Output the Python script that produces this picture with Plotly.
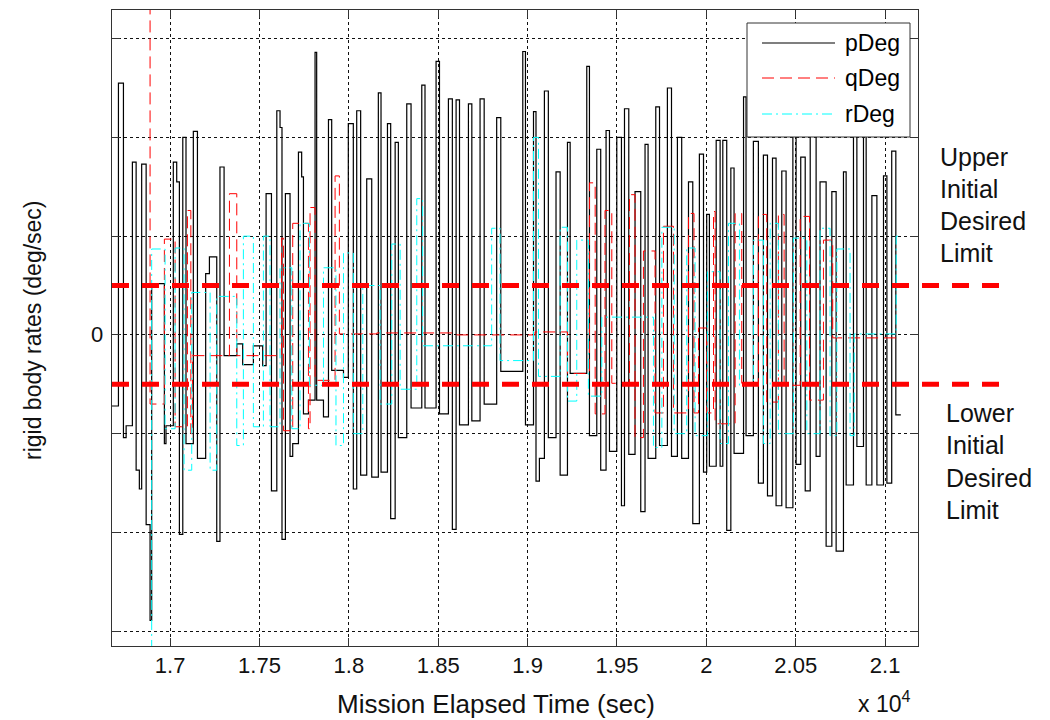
import plotly.graph_objects as go

# ---------------- data ----------------
# Mission elapsed time in seconds, values in deg/sec (step series)
p_time = [16670, 16711, 16739, 16754, 16789, 16810, 16828, 16841, 16866, 16888,
          16897, 16968, 16977, 17018, 17037, 17052, 17071, 17089, 17130, 17153,
          17199, 17220, 17261, 17279, 17302, 17373, 17406, 17466, 17518, 17537,
          17567, 17597, 17615, 17626, 17645, 17671, 17686, 17718, 17736, 17746,
          17774, 17811, 17820, 17858, 17886, 17904, 17970, 17997, 18025, 18044,
          18066, 18100, 18128, 18165, 18180, 18216, 18234, 18259, 18277, 18324,
          18348, 18408, 18426, 18488, 18507, 18557, 18579, 18600, 18619, 18669,
          18688, 18734, 18757, 18827, 18850, 18973, 18988, 19033, 19047, 19066,
          19094, 19116, 19159, 19182, 19223, 19238, 19331, 19346, 19387, 19409,
          19439, 19458, 19499, 19525, 19542, 19566, 19601, 19633, 19657, 19674,
          19717, 19738, 19782, 19805, 19838, 19862, 19900, 19924, 19961, 19984,
          20002, 20017, 20055, 20077, 20092, 20114, 20137, 20155, 20208, 20222,
          20263, 20291, 20319, 20342, 20370, 20390, 20422, 20446, 20484, 20502,
          20528, 20553, 20581, 20614, 20636, 20670, 20702, 20726, 20767, 20782,
          20823, 20842, 20879, 20894, 20926, 20954, 20991, 21010, 21037, 21060,
          21088]
p_deg = [-0.72, 2.55, -1.04, -0.92, 1.75, -1.37, -1.56, 1.73, -1.92, -2.89,
         0.52, -1.10, -0.92, 1.75, 1.55, -2.02, 2.00, -1.10, 2.06, -1.25,
         0.62, 0.79, -2.09, 1.70, -0.21, -0.09, -0.30, -0.11, -0.31, 1.43,
         -1.58, 2.27, 2.10, -2.07, 1.43, -1.23, -1.10, 1.85, 1.60, -0.80,
         -0.66, 2.86, -0.66, -0.83, 2.18, -0.36, -0.43, 2.14, -1.56, 2.27,
         -1.42, 1.58, -1.44, 2.45, -1.39, 2.14, -1.86, 1.95, -1.04, 2.34,
         -0.74, 2.53, -0.74, 2.77, -0.80, 2.39, -1.97, 2.38, -0.91, 2.34,
         -0.87, 2.39, -0.70, 2.20, -0.37, 2.87, -0.91, 2.26, -1.48, -1.25,
         2.47, -1.04, 1.65, -1.42, 1.95, -0.39, 2.72, -1.02, 1.88, -1.37,
         2.07, -1.18, 2.00, -1.73, 2.29, -1.21, 1.45, -1.79, 1.93, -1.25,
         2.31, -1.12, 2.50, -1.23, 2.00, -1.25, 1.55, -1.91, 1.83, -1.39,
         1.22, -1.33, 1.97, -1.33, 1.97, -1.98, 1.69, -1.20, 2.41, -1.02,
         1.96, -1.50, 1.82, -1.63, 1.79, -1.73, 1.66, -1.75, 2.30, -1.31,
         1.80, -1.58, 2.50, -1.23, 1.55, -2.14, 1.45, -2.19, 1.65, -1.52,
         2.30, -1.13, 2.20, -1.52, 1.41, -1.52, 1.61, -1.50, 1.86, -0.81,
         -0.81]

q_time = [16884, 16888, 16968, 17028, 17097, 17116, 17125, 17332, 17373, 17624,
          17634, 17686, 17774, 17783, 17811, 17923, 17947, 18156, 18604, 19042,
          19223, 19346, 19378, 19433, 19471, 19570, 19601, 19648, 19713, 19760,
          19816, 19900, 19931, 19956, 20002, 20040, 20049, 20161, 20198, 20291,
          20338, 20403, 20435, 20525, 20577, 20655, 20707, 21093]
q_deg = [5.0, -0.70, 0.97, -0.93, 1.26, -1.00, -0.21, 1.43, -0.21, 0.98,
         -0.97, 1.13, -0.95, 1.29, -0.46, 1.61, 0.01, 0.02, 0.00, 0.03,
         -0.39, 1.54, -0.80, 1.26, -0.49, 1.42, -1.04, 0.85, -0.79, 1.10,
         -0.79, 1.23, -0.79, 0.07, -0.79, 1.25, -0.90, 1.23, -0.49, 1.22,
         -0.68, 1.22, -0.51, 1.20, -0.66, 0.96, -0.03, -0.03]

r_time = [16890, 16897, 16972, 17028, 17078, 17121, 17224, 17261, 17373, 17410,
          17466, 17522, 17559, 17615, 17681, 17727, 17779, 17858, 17928, 17970,
          18025, 18078, 18175, 18240, 18287, 18380, 18413, 18799, 18846, 19033,
          19061, 19182, 19223, 19275, 19340, 19415, 19704, 19751, 19820, 19890,
          19937, 20006, 20077, 20124, 20185, 20263, 20319, 20357, 20403, 20487,
          20562, 20636, 20692, 20730, 20804, 20827, 21062, 21075]
r_deg = [-5.0, 0.87, -0.95, 0.88, -1.37, 0.43, -1.37, 0.39, -1.12, 1.00,
         -0.93, 1.00, -0.93, 0.68, -0.95, 1.13, -0.51, 0.68, -1.12, 0.83,
         -1.00, 0.50, -0.70, 0.92, -0.55, 1.38, -0.11, 1.08, -0.26, 2.00,
         -0.42, 1.09, -0.67, 0.96, -0.62, 0.18, -1.14, 1.09, -1.00, 0.88,
         -1.02, 0.64, -1.10, 1.13, -0.51, 0.96, -1.10, 1.13, -1.00, 0.98,
         -1.00, 1.08, -1.02, 0.87, -1.02, 0.01, 1.00, 1.00]

limit_values = [0.5, -0.5]
x_tick_values = [17000, 17500, 18000, 18500, 19000, 19500, 20000, 20500, 21000]
x_tick_labels = ["1.7", "1.75", "1.8", "1.85", "1.9", "1.95", "2", "2.05", "2.1"]
y_tick_values = [-3, -2, -1, 0, 1, 2, 3]
y_zero_label = "0"
series_names = ["pDeg", "qDeg", "rDeg"]
upper_words = ["Upper", "Initial", "Desired", "Limit"]
lower_words = ["Lower", "Initial", "Desired", "Limit"]

# ---------------- layout geometry ----------------
# The page body adds an 8px offset, so figure coords = screen coords - 8.
OFF = 8
W, H = 1050, 720
L, R, T, B = 112, 918, 10, 646          # plot area in screen pixels
FONT = "Liberation Sans, Arial, sans-serif"


def px(x):
    return (x - L) / (R - L)


def py(y):
    return (B - y) / (B - T)


styles = [
    dict(color="black", width=1.2, dash="solid"),
    dict(color="#FF0000", width=1, dash="12px,6px"),
    dict(color="#00FFFF", width=1, dash="10px,4px,2px,4px"),
]

fig = go.Figure()
for name, xs, ys, st in zip(series_names, [p_time, q_time, r_time],
                            [p_deg, q_deg, r_deg], styles):
    fig.add_trace(go.Scatter(x=xs, y=ys, mode="lines", name=name,
                             line=dict(shape="hv", **st), showlegend=False))

shapes = []
# initial desired limits (thick red dashed, extending past the axes)
for lv in limit_values:
    shapes.append(dict(type="line", xref="paper", yref="y", x0=0, x1=px(1005),
                       y0=lv, y1=lv, layer="above",
                       line=dict(color="#FF0000", width=5, dash="17px,13px")))

# manual legend box
shapes.append(dict(type="rect", xref="paper", yref="paper",
                   x0=px(747), x1=px(910), y0=py(137), y1=py(23),
                   fillcolor="white", layer="above",
                   line=dict(color="#333333", width=1)))
annotations = []
leg_rows = [43, 78, 114]
for name, st, yy in zip(series_names, styles, leg_rows):
    shapes.append(dict(type="line", xref="paper", yref="paper",
                       x0=px(762), x1=px(835), y0=py(yy), y1=py(yy),
                       layer="above", line=st))
    annotations.append(dict(text=name, xref="paper", yref="paper",
                            x=px(843), y=py(yy), xanchor="left",
                            yanchor="middle", showarrow=False,
                            font=dict(family=FONT, size=23, color="black")))

for words, x0, ys in [(upper_words, 938, [157, 189, 221, 253]),
                      (lower_words, 944, [413, 445, 478, 510])]:
    for w, yy in zip(words, ys):
        annotations.append(dict(text=w, xref="paper", yref="paper",
                                x=px(x0), y=py(yy), xanchor="left",
                                yanchor="middle", showarrow=False,
                                font=dict(family=FONT, size=25, color="#111111")))

annotations.append(dict(text=y_zero_label, xref="paper", yref="y",
                        x=px(105), y=0, xanchor="right", yanchor="middle",
                        showarrow=False,
                        font=dict(family=FONT, size=22, color="#111111")))
annotations.append(dict(text="Mission Elapsed Time (sec)", xref="paper",
                        yref="paper", x=px(496), y=py(704), xanchor="center",
                        yanchor="middle", showarrow=False,
                        font=dict(family=FONT, size=26, color="#111111")))
annotations.append(dict(text="x 10<sup>4</sup>", xref="paper", yref="paper",
                        x=px(884), y=py(702), xanchor="center",
                        yanchor="middle", showarrow=False,
                        font=dict(family=FONT, size=23, color="#111111")))
annotations.append(dict(text="rigid body rates (deg/sec)", xref="paper",
                        yref="paper", x=px(33), y=py(330), xanchor="center",
                        yanchor="middle", textangle=-90, showarrow=False,
                        font=dict(family=FONT, size=23, color="#111111")))

axis_common = dict(showline=True, linecolor="#333333", linewidth=1,
                   mirror="ticks", ticks="inside", ticklen=8,
                   tickcolor="#333333", showgrid=True, gridcolor="#111111",
                   gridwidth=1, griddash="3px,3px", zeroline=False,
                   tickfont=dict(family=FONT, size=22, color="#111111"))

fig.update_layout(
    width=W, height=H, autosize=False,
    margin=dict(l=L - OFF, r=W - (R - OFF), t=T - OFF, b=H - (B - OFF)),
    paper_bgcolor="white", plot_bgcolor="white",
    showlegend=False,
    shapes=shapes, annotations=annotations,
    xaxis=dict(range=[16675, 21184], tickvals=x_tick_values,
               ticktext=x_tick_labels, **axis_common),
    yaxis=dict(range=[-3.15, 3.29], tickvals=y_tick_values,
               showticklabels=False, **axis_common),
)

fig.write_html("out.html")
